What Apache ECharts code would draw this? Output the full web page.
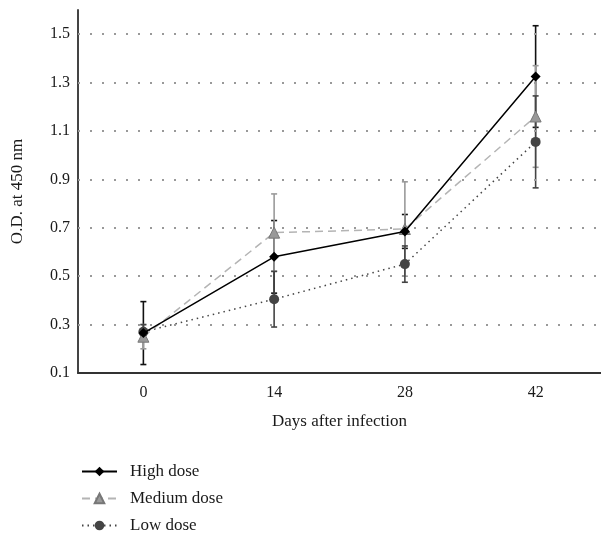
<!DOCTYPE html>
<html>
<head>
<meta charset="utf-8">
<script src="https://cdn.jsdelivr.net/npm/echarts@6/dist/echarts.min.js"></script>
<style>
  html, body { margin: 0; padding: 0; background: #fff; }
  #chart { width: 601px; height: 534px; }
</style>
</head>
<body>
<div id="chart"></div>
<script>
var days = ['0', '14', '28', '42'];
var yTicks = [0.1, 0.3, 0.5, 0.7, 0.9, 1.1, 1.3, 1.5];
var gridValues = [0.3, 0.5, 0.7, 0.9, 1.1, 1.3, 1.5];

var highDose = [0.265, 0.58, 0.685, 1.325];
var highErr = [0.13, 0.15, 0.07, 0.21];
var mediumDose = [0.25, 0.68, 0.695, 1.16];
var mediumErr = [0.05, 0.16, 0.195, 0.21];
var lowDose = [0.27, 0.405, 0.55, 1.055];
var lowErr = [0.03, 0.115, 0.075, 0.19];

var font = '"Liberation Serif", "DejaVu Serif", serif';

function errData(vals, errs) {
    return vals.map(function (v, i) { return [i, v - errs[i], v + errs[i]]; });
}

function errorBars(name, vals, errs, color) {
    return {
        type: 'custom',
        name: name + ' err',
        silent: true,
        z: 1,
        data: errData(vals, errs),
        encode: { x: 0, y: [1, 2] },
        renderItem: function (params, api) {
            var lo = api.coord([api.value(0), api.value(1)]);
            var hi = api.coord([api.value(0), api.value(2)]);
            var cap = 3;
            var st = { stroke: color, lineWidth: 1.6 };
            return {
                type: 'group',
                children: [
                    { type: 'line', shape: { x1: lo[0], y1: lo[1], x2: hi[0], y2: hi[1] }, style: st },
                    { type: 'line', shape: { x1: lo[0] - cap, y1: lo[1], x2: lo[0] + cap, y2: lo[1] }, style: st },
                    { type: 'line', shape: { x1: hi[0] - cap, y1: hi[1], x2: hi[0] + cap, y2: hi[1] }, style: st }
                ]
            };
        }
    };
}

var chart = echarts.init(document.getElementById('chart'));

var option = {
    animation: false,
    backgroundColor: '#fff',
    grid: { left: 78, right: 0, top: 10, bottom: 161 },
    legend: {
        data: ['High dose', 'Medium dose', 'Low dose'],
        orient: 'vertical',
        left: 81,
        top: 463,
        height: 100,
        padding: 0,
        itemWidth: 35,
        itemHeight: 12,
        itemGap: 10,
        textStyle: { fontFamily: font, fontSize: 17, lineHeight: 17, color: '#1a1a1a', padding: [0, 0, 0, 8] }
    },
    xAxis: {
        type: 'category',
        data: days,
        boundaryGap: true,
        name: 'Days after infection',
        nameLocation: 'middle',
        nameGap: 40,
        nameTextStyle: { fontFamily: font, fontSize: 17, color: '#1a1a1a' },
        axisLine: { lineStyle: { color: '#333', width: 2 } },
        axisTick: { show: false },
        axisLabel: { fontFamily: font, fontSize: 16, color: '#1a1a1a', margin: 12 },
        splitLine: { show: false }
    },
    yAxis: {
        type: 'value',
        min: 0.1,
        max: 1.6,
        interval: 0.2,
        name: 'O.D. at 450 nm',
        nameLocation: 'middle',
        nameGap: 52,
        nameTextStyle: { fontFamily: font, fontSize: 17, color: '#1a1a1a' },
        axisLine: { show: true, lineStyle: { color: '#444', width: 2 } },
        axisTick: { show: false },
        axisLabel: {
            fontFamily: font, fontSize: 16, color: '#1a1a1a', margin: 8,
            formatter: function (v) {
                for (var i = 0; i < yTicks.length; i++) {
                    if (Math.abs(yTicks[i] - v) < 1e-6) return yTicks[i].toFixed(1);
                }
                return '';
            }
        },
        splitLine: { show: false }
    },
    series: [
        errorBars('High dose', highDose, highErr, '#111'),
        errorBars('Medium dose', mediumDose, mediumErr, '#9a9a9a'),
        errorBars('Low dose', lowDose, lowErr, '#444'),
        {
            name: 'grid',
            type: 'line',
            data: [],
            silent: true,
            markLine: {
                silent: true,
                symbol: 'none',
                label: { show: false },
                lineStyle: { color: '#999', width: 2, type: [2, 10] },
                data: gridValues.map(function (v) { return { yAxis: v }; })
            }
        },
        {
            name: 'Low dose',
            type: 'line',
            data: lowDose,
            z: 3,
            symbol: 'circle',
            symbolSize: 10,
            itemStyle: { color: '#444' },
            lineStyle: { color: '#444', width: 1.5, type: [1.5, 4] }
        },
        {
            name: 'Medium dose',
            type: 'line',
            data: mediumDose,
            z: 4,
            symbol: 'triangle',
            symbolSize: 11,
            itemStyle: { color: '#999', borderColor: '#777', borderWidth: 1 },
            lineStyle: { color: '#b4b4b4', width: 1.5, type: [8, 5] }
        },
        {
            name: 'High dose',
            type: 'line',
            data: highDose,
            z: 5,
            symbol: 'diamond',
            symbolSize: 10,
            itemStyle: { color: '#000' },
            lineStyle: { color: '#000', width: 1.5 }
        }
    ]
};

chart.setOption(option);
</script>
</body>
</html>
